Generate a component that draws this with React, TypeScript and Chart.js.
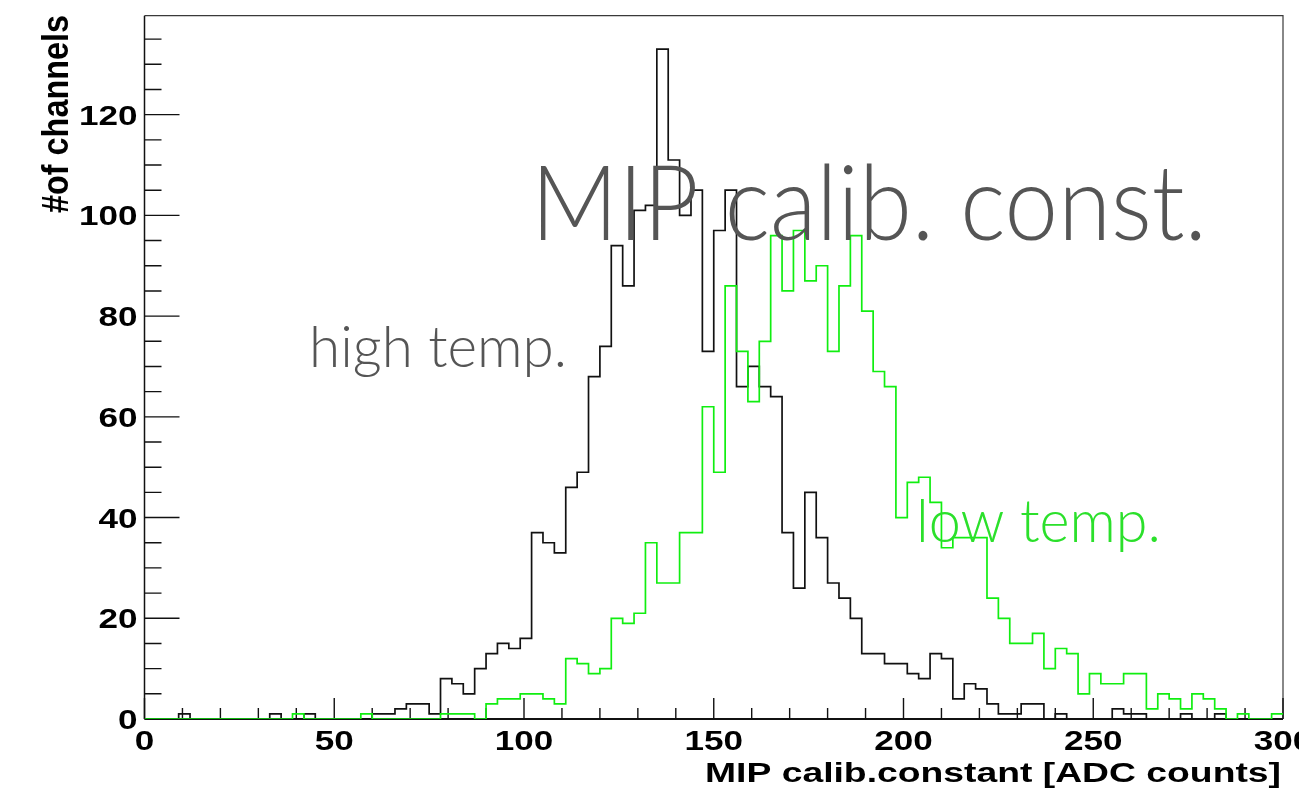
import React, { useEffect, useRef } from "react";
import { Chart, registerables } from "chart.js";

Chart.register(...registerables);

// Histogram binning: 100 bins of width 3 ADC counts from 0 to 300
const X_MIN = 0;
const X_MAX = 300;
const BIN_WIDTH = 3;
const Y_MAX = 139.65;

// Entries per bin, high temperature run (black)
const HIGH_TEMP_COUNTS = [
  0, 0, 0, 1, 0, 0, 0, 0, 0, 0,
  0, 1, 0, 0, 1, 0, 0, 0, 0, 0,
  1, 1, 2, 3, 3, 1, 8, 7, 5, 10,
  13, 15, 14, 16, 37, 35, 33, 46, 49, 68,
  74, 94, 86, 101, 102, 133, 111, 100, 105, 73,
  97, 105, 66, 70, 66, 64, 37, 26, 45, 36,
  27, 24, 20, 13, 13, 11, 11, 9, 8, 13,
  12, 4, 7, 6, 3, 1, 1, 3, 3, 0,
  1, 0, 0, 0, 0, 2, 1, 1, 0, 0,
  0, 1, 0, 0, 1, 0, 0, 0, 0, 0,
];

// Entries per bin, low temperature run (green)
const LOW_TEMP_COUNTS = [
  0, 0, 0, 0, 0, 0, 0, 0, 0, 0,
  0, 0, 0, 1, 0, 0, 0, 0, 0, 1,
  0, 0, 0, 0, 0, 0, 1, 1, 1, 0,
  3, 4, 4, 5, 5, 4, 3, 12, 11, 9,
  10, 20, 19, 21, 35, 27, 27, 37, 37, 62,
  49, 86, 73, 63, 75, 96, 85, 97, 87, 90,
  73, 86, 96, 81, 69, 66, 40, 47, 48, 43,
  34, 36, 36, 36, 24, 20, 15, 15, 17, 10,
  14, 13, 5, 9, 7, 7, 9, 9, 2, 5,
  4, 2, 5, 4, 2, 0, 1, 0, 0, 1,
];

// Axis ticks
const X_MAJOR_TICKS = [0, 50, 100, 150, 200, 250, 300];
const X_TICK_LABELS = ["0", "50", "100", "150", "200", "250", "300"];
const X_MINOR_STEP = 10;
const Y_MAJOR_TICKS = [0, 20, 40, 60, 80, 100, 120];
const Y_TICK_LABELS = ["0", "20", "40", "60", "80", "100", "120"];
const Y_MINOR_STEP = 5;

const X_TITLE = "MIP calib.constant [ADC counts]";
const Y_TITLE = "#of channels";
const MAIN_TITLE = "MIP calib. const.";
const HIGH_LABEL = "high temp.";
const LOW_LABEL = "low temp.";

const BLACK = "#111111";
const GREEN = "#10ee10";
const GREY_TEXT = "#555555";
const LABEL_GREEN = "#2be02b";

const AXIS_FONT = "'Liberation Sans', Arial, Helvetica, sans-serif";
const SLIDE_FONT = "Lato, 'Open Sans', 'Noto Sans', sans-serif";

// Step outline points: each bin's value held from its low edge to its high edge
function toSteps(counts: number[]) {
  const pts = [{ x: X_MIN, y: 0 }];
  counts.forEach((v, i) => pts.push({ x: X_MIN + (i + 1) * BIN_WIDTH, y: v }));
  return pts;
}

type Anchor = "left" | "center" | "right";

function drawText(
  ctx: CanvasRenderingContext2D,
  text: string,
  x: number,
  y: number,
  font: string,
  color: string,
  anchor: Anchor,
  opts: { sx?: number; width?: number }
) {
  ctx.save();
  ctx.font = font;
  ctx.fillStyle = color;
  ctx.textAlign = "left";
  ctx.textBaseline = "alphabetic";
  const w = ctx.measureText(text).width;
  const sx = opts.width ? opts.width / w : opts.sx ?? 1;
  ctx.translate(x, y);
  ctx.scale(sx, 1);
  const off = anchor === "left" ? 0 : anchor === "center" ? -w / 2 : -w;
  ctx.fillText(text, off, 0);
  ctx.restore();
}

const frameAndAxes = {
  id: "frameAndAxes",
  beforeDatasetsDraw(chart: any) {
    const { ctx, chartArea } = chart;
    const { left, right, top, bottom } = chartArea;
    const xs = chart.scales.x;
    const ys = chart.scales.y;
    ctx.save();
    // frame top and right
    ctx.strokeStyle = "#3a3a3a";
    ctx.lineWidth = 1.2;
    ctx.beginPath();
    ctx.moveTo(left, top);
    ctx.lineTo(right, top);
    ctx.lineTo(right, bottom);
    ctx.stroke();
    // axes lines
    ctx.strokeStyle = BLACK;
    ctx.lineWidth = 1.5;
    ctx.beginPath();
    ctx.moveTo(left, top);
    ctx.lineTo(left, bottom);
    ctx.stroke();
    ctx.lineWidth = 2.2;
    ctx.beginPath();
    ctx.moveTo(left, bottom);
    ctx.lineTo(right, bottom);
    ctx.stroke();
    // x ticks (inside, pointing up)
    ctx.lineWidth = 1.4;
    ctx.beginPath();
    for (let v = X_MIN; v <= X_MAX; v += X_MINOR_STEP) {
      const px = xs.getPixelForValue(v);
      const len = X_MAJOR_TICKS.includes(v) ? 21 : 11;
      ctx.moveTo(px, bottom);
      ctx.lineTo(px, bottom - len);
    }
    // y ticks (inside, pointing right)
    for (let v = 0; v <= Y_MAX; v += Y_MINOR_STEP) {
      const py = ys.getPixelForValue(v);
      const len = Y_MAJOR_TICKS.includes(v) ? 35 : 17;
      ctx.moveTo(left, py);
      ctx.lineTo(left + len, py);
    }
    ctx.stroke();
    ctx.restore();
  },
  afterDraw(chart: any) {
    const { ctx, chartArea } = chart;
    const { left, right, bottom } = chartArea;
    const xs = chart.scales.x;
    const ys = chart.scales.y;
    const tickFont = `bold 27px ${AXIS_FONT}`;
    // y tick labels
    Y_MAJOR_TICKS.forEach((v, i) => {
      const py = ys.getPixelForValue(v);
      drawText(ctx, Y_TICK_LABELS[i], left - 7, py + 10, tickFont, "#000", "right", { sx: 1.3 });
    });
    // x tick labels
    X_MAJOR_TICKS.forEach((v, i) => {
      const px = xs.getPixelForValue(v);
      drawText(ctx, X_TICK_LABELS[i], px, bottom + 31, tickFont, "#000", "center", { sx: 1.3 });
    });
    // x title
    drawText(ctx, X_TITLE, right - 2, bottom + 62.5, `bold 27px ${AXIS_FONT}`, "#000", "right", { width: 576 });
    // y title, rotated
    ctx.save();
    ctx.font = `bold 28px ${AXIS_FONT}`;
    ctx.fillStyle = "#000";
    ctx.textAlign = "center";
    ctx.textBaseline = "alphabetic";
    const w = ctx.measureText(Y_TITLE).width;
    ctx.translate(68, 114);
    ctx.scale(1.3, 1);
    ctx.rotate(-Math.PI / 2);
    ctx.scale(198 / w, 1);
    ctx.fillText(Y_TITLE, 0, 0);
    ctx.restore();
    // annotations
    drawText(ctx, MAIN_TITLE, 531, 239.5, `300 105px ${SLIDE_FONT}`, GREY_TEXT, "left", { width: 676 });
    drawText(ctx, HIGH_LABEL, 309, 367, `300 57px ${SLIDE_FONT}`, GREY_TEXT, "left", { width: 258 });
    drawText(ctx, LOW_LABEL, 916, 541.5, `300 59px ${SLIDE_FONT}`, LABEL_GREEN, "left", { width: 245 });
  },
};

export default function App() {
  const canvasRef = useRef<HTMLCanvasElement | null>(null);

  useEffect(() => {
    const canvas = canvasRef.current;
    if (!canvas) return;
    const chart = new Chart(canvas, {
      type: "line",
      data: {
        datasets: [
          {
            label: LOW_LABEL,
            data: toSteps(LOW_TEMP_COUNTS),
            borderColor: GREEN,
            borderWidth: 1.7,
            stepped: "after",
            pointRadius: 0,
            fill: false,
            order: 0,
          },
          {
            label: HIGH_LABEL,
            data: toSteps(HIGH_TEMP_COUNTS),
            borderColor: BLACK,
            borderWidth: 1.7,
            stepped: "after",
            pointRadius: 0,
            fill: false,
            order: 1,
          },
        ],
      },
      options: {
        animation: false,
        responsive: false,
        maintainAspectRatio: false,
        events: [],
        layout: { padding: { left: 144.5, top: 15.7, right: 16, bottom: 82 } },
        scales: {
          x: { type: "linear", min: X_MIN, max: X_MAX, display: false },
          y: { type: "linear", min: 0, max: Y_MAX, display: false },
        },
        plugins: {
          legend: { display: false },
          tooltip: { enabled: false },
        },
      },
      plugins: [frameAndAxes],
    });
    return () => chart.destroy();
  }, []);

  return (
    <div style={{ position: "fixed", left: 0, top: 0, width: 1299, height: 801, background: "#fff" }}>
      <canvas ref={canvasRef} width={1299} height={801} style={{ width: 1299, height: 801, display: "block" }} />
    </div>
  );
}
